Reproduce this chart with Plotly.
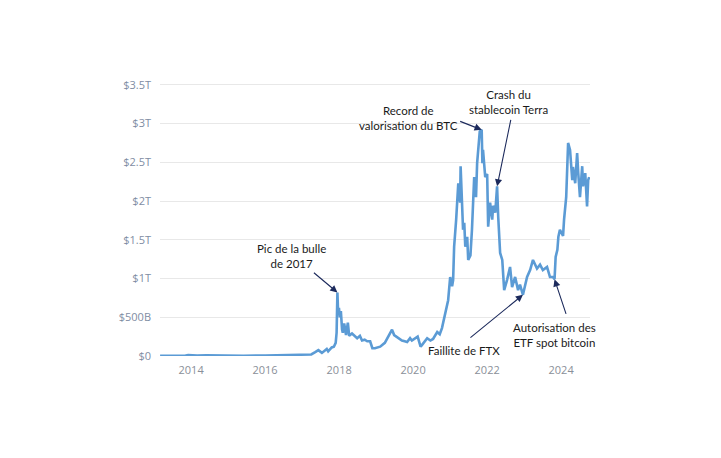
import plotly.graph_objects as go

# Bitcoin market capitalisation (trillions of USD).
# Rows of dates and values are kept in matching chunks.
dates = [
    "2013-03-01", "2013-04-10", "2013-07-01", "2013-11-01", "2013-12-03",
    "2014-01-05", "2014-03-01", "2014-06-01", "2014-12-01", "2015-06-01",
    "2016-01-01", "2016-06-15", "2016-12-01", "2017-02-01", "2017-04-01",
    "2017-05-10", "2017-06-10", "2017-07-15", "2017-09-01", "2017-09-15",
    "2017-10-20", "2017-11-10", "2017-11-28", "2017-12-07", "2017-12-10",
    "2017-12-15", "2017-12-22", "2017-12-30", "2018-01-08", "2018-01-18",
    "2018-01-30", "2018-02-06", "2018-02-20", "2018-03-10", "2018-03-28",
    "2018-04-10", "2018-05-08", "2018-06-05", "2018-06-28", "2018-07-25",
    "2018-08-15", "2018-09-10", "2018-10-05", "2018-11-03", "2018-11-25",
    "2018-12-20", "2019-02-10", "2019-03-28", "2019-04-27", "2019-06-07",
    "2019-06-28", "2019-07-20", "2019-08-20", "2019-09-13", "2019-10-10",
    "2019-11-03", "2019-12-02", "2019-12-20", "2020-02-15", "2020-03-15",
    "2020-03-28", "2020-05-19", "2020-06-20", "2020-07-16", "2020-08-26",
    "2020-09-20", "2020-10-12", "2020-11-10", "2020-12-12", "2021-01-01",
    "2021-01-20", "2021-01-30", "2021-02-09", "2021-03-01", "2021-03-22",
    "2021-04-09", "2021-04-14", "2021-05-08", "2021-05-20", "2021-05-30",
    "2021-06-18", "2021-06-28", "2021-07-20", "2021-08-04", "2021-08-15",
    "2021-08-26", "2021-09-13", "2021-09-24", "2021-10-20", "2021-11-08",
    "2021-11-15", "2021-11-21", "2021-12-13", "2022-01-01", "2022-01-11",
    "2022-01-30", "2022-02-20", "2022-03-01", "2022-03-22", "2022-04-09",
    "2022-04-20", "2022-05-09", "2022-05-30", "2022-06-18", "2022-07-16",
    "2022-08-15", "2022-09-04", "2022-10-04", "2022-11-02", "2022-11-21",
    "2022-12-20", "2023-01-30", "2023-03-01", "2023-03-29", "2023-05-08",
    "2023-06-07", "2023-07-05", "2023-08-15", "2023-09-13", "2023-10-12",
    "2023-10-28", "2023-11-08", "2023-11-25", "2023-12-05", "2023-12-20", "2024-01-20",
    "2024-01-30", "2024-02-20", "2024-03-10", "2024-03-29", "2024-04-20",
    "2024-04-27", "2024-05-19", "2024-06-07", "2024-06-18", "2024-07-05",
    "2024-07-27", "2024-08-04", "2024-08-26", "2024-09-13", "2024-09-24",
    "2024-10-04",
]
market_cap_t = [
    0.004, 0.003, 0.001, 0.003, 0.013,
    0.010, 0.007, 0.008, 0.004, 0.003,
    0.006, 0.010, 0.012, 0.016, 0.020,
    0.050, 0.075, 0.040, 0.090, 0.060,
    0.110, 0.120, 0.170, 0.300, 0.460,
    0.820, 0.560, 0.620, 0.500, 0.580,
    0.340, 0.300, 0.420, 0.270, 0.430,
    0.260, 0.290, 0.250, 0.230, 0.260,
    0.200, 0.210, 0.190, 0.190, 0.100,
    0.100, 0.120, 0.170, 0.250, 0.340,
    0.270, 0.250, 0.220, 0.200, 0.190,
    0.180, 0.230, 0.200, 0.250, 0.120,
    0.140, 0.230, 0.200, 0.220, 0.310,
    0.280, 0.360, 0.550, 0.720, 1.020,
    0.900, 0.980, 1.410, 1.760, 2.230,
    1.980, 2.450, 1.630, 1.720, 1.410,
    1.540, 1.240, 1.300, 1.630, 1.980,
    2.310, 2.050, 2.490, 2.900, 2.920,
    2.490, 2.660, 2.310, 2.350, 1.670,
    1.980, 1.760, 1.940, 1.850, 2.190,
    1.800, 1.330, 1.240, 0.850, 0.980,
    1.150, 0.890, 1.020, 0.850, 0.920,
    0.790, 1.020, 1.110, 1.240, 1.130,
    1.180, 1.110, 1.150, 1.020, 1.020,
    0.990, 1.280, 1.370, 1.540, 1.630, 1.550,
    1.760, 2.050, 2.750, 2.660, 2.270,
    2.440, 2.230, 2.620, 2.360, 2.050,
    2.450, 2.190, 2.360, 1.930, 2.270,
    2.310,
]

y_tick_vals = [0, 0.5, 1, 1.5, 2, 2.5, 3, 3.5]
y_tick_text = ["$0", "$500B", "$1T", "$1.5T", "$2T", "$2.5T", "$3T", "$3.5T"]
x_tick_vals = ["2014-01-01", "2016-01-01", "2018-01-01", "2020-01-01", "2022-01-01", "2024-01-01"]
x_tick_text = ["2014", "2016", "2018", "2020", "2022", "2024"]

# annotation events: (label, date, value)
events = [
    ("Pic de la bulle<br>de 2017", "2017-12-15", 0.82),
    ("Record de<br>valorisation du BTC", "2021-11-08", 2.92),
    ("Crash du<br>stablecoin Terra", "2022-04-09", 2.19),
    ("Faillite de FTX", "2022-12-20", 0.79),
    ("Autorisation des<br>ETF spot bitcoin", "2023-10-28", 0.99),
]
# arrow tail offsets (px) and label positions (px in the 721x458 frame)
arrow_offsets = [(-25, -21), (-23, -9), (14, -68), (-54, 44), (12, 36)]
label_px = [(291, 256), (408, 118), (508, 102), (464, 350), (554, 335)]

L, R, T, B = 160, 131, 81, 102
W, H = 721, 458
pw, ph = W - L - R, H - T - B

fig = go.Figure()
fig.add_trace(go.Scatter(
    x=dates, y=market_cap_t, mode="lines",
    line=dict(color="#5b9bd5", width=2.6), hoverinfo="skip", showlegend=False,
))

ann = []
for (label, d, v), (ax, ay), (lx, ly) in zip(events, arrow_offsets, label_px):
    ann.append(dict(
        x=d, y=v, xref="x", yref="y", text="", showarrow=True,
        ax=ax, ay=ay, arrowhead=2, arrowsize=1.3, arrowwidth=1.1,
        arrowcolor="#1c2a5c", standoff=0,
    ))
    ann.append(dict(
        x=(lx - L) / pw, y=(H - B - ly) / ph, xref="paper", yref="paper",
        text=label, showarrow=False, xanchor="center", yanchor="middle",
        font=dict(family="Lato, Open Sans, sans-serif", size=11.5, color="#1a1a1a"),
        align="center",
    ))

fig.update_layout(
    width=W, height=H,
    margin=dict(l=L, r=R, t=T, b=B, pad=0),
    paper_bgcolor="white", plot_bgcolor="white",
    annotations=ann,
    xaxis=dict(
        range=["2013-02-28", "2024-10-12"], tickvals=x_tick_vals, ticktext=x_tick_text,
        showgrid=False, zeroline=False, showline=False, ticks="",
        tickfont=dict(family="Open Sans, sans-serif", size=11, color="#8a8f99"),
        ticklabelstandoff=6,
    ),
    yaxis=dict(
        range=[0, 3.55], tickvals=y_tick_vals, ticktext=y_tick_text,
        showgrid=True, gridcolor="#e8e8e8", gridwidth=1, zeroline=False,
        showline=False, ticks="",
        tickfont=dict(family="Open Sans, sans-serif", size=11, color="#7f8da3"),
        ticklabelstandoff=8,
    ),
)

fig.write_html("out.html")
